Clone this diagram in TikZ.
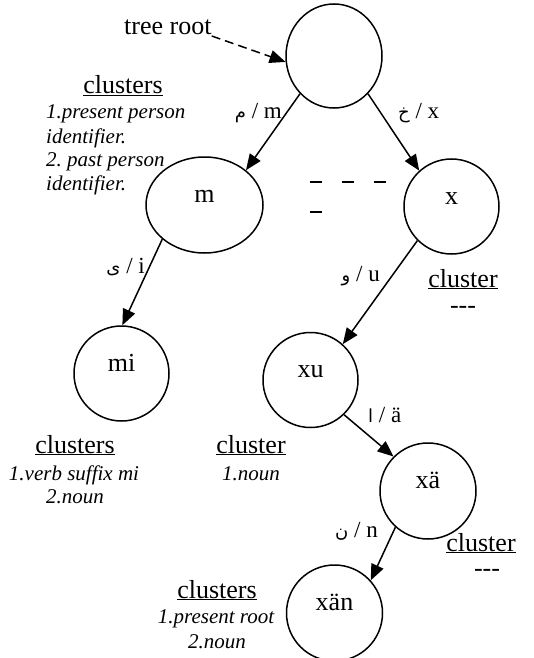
\documentclass[tikz,border=0pt]{standalone}
\usepackage{fontspec}
\setmainfont{Liberation Serif}
\newfontfamily\arabicfont[Script=Arabic]{DejaVu Sans}
\TeXXeTstate=1
\frenchspacing
\usetikzlibrary{arrows.meta,shapes.geometric}
\newcommand\arl[1]{{\fontsize{18}{20}\arabicfont\beginR #1\endR}}
\begin{document}
\begin{tikzpicture}[x=1pt,y=-1pt,
  state/.style={circle,draw,line width=1.5pt,minimum size=95pt,inner sep=0pt,
    text height=0pt,text depth=5pt,font=\fontsize{26}{30}\selectfont},
  edge/.style={line width=1.5pt,-{Triangle[length=16pt,width=13pt]}},
  lbl/.style={font=\fontsize{23}{26}\selectfont,inner sep=0pt},
  head/.style={font=\fontsize{26}{30}\selectfont,inner sep=0pt,anchor=base},
  item/.style={font=\fontsize{21}{24}\selectfont\itshape,inner sep=0pt,anchor=base},
  dashbar/.style={line width=2.5pt}
]
\useasboundingbox (0,0) rectangle (533,658);
% nodes
\node[state,ellipse,minimum width=96pt,minimum height=104pt] (root) at (334,56) {};
\node[state,ellipse,minimum width=117pt,minimum height=96pt] (m) at (204.5,205) {m};
\node[state] (x) at (451.5,206.5) {x};
\node[state] (mi) at (121.5,373.5) {mi};
\node[state] (xu) at (310.5,380) {xu};
\node[state,minimum size=96pt] (xa) at (428,491) {xä};
\node[state,minimum size=96pt] (xan) at (334.5,613) {xän};
% tree root
\node[font=\fontsize{26}{30}\selectfont,inner sep=0pt,anchor=base west] (tr) at (124,35) {tree root};
\draw[line width=1.5pt,dash pattern=on 9pt off 5pt,-{Triangle[length=16pt,width=13pt]}] ([yshift=-1pt]tr.base east) -- (root.187);
% edges
\draw[edge] (root.228) -- (m.40);
\draw[edge] (root.312) -- (x.132);
\draw[edge] (m.219) -- (mi.89);
\draw[edge] (x.225) -- (xu.48);
\draw[edge] (xu.-46) -- (xa.135);
\draw[edge] (xa.228) -- (xan.42);
% edge labels
\node[lbl,anchor=base east] (l1) at (282,118) {\arl{م} / m};
\node[lbl,anchor=base west] (l2) at (398,118) {\arl{خ} / x};
\node[lbl,anchor=base east] (l3) at (145,273) {\arl{ى} / i};
\node[lbl,anchor=base east] (l4) at (380,281) {\arl{و} / u};
\node[lbl,anchor=base west] (l5) at (368,422) {\arl{ا} / ä};
\node[lbl,anchor=base east] (l6) at (378,537) {\arl{ن} / n};
% dashes
\draw[dashbar] (310,182) -- (322,182);
\draw[dashbar] (342,182) -- (354,182);
\draw[dashbar] (374,182) -- (386,182);
\draw[dashbar] (310,212) -- (322,212);
% cluster texts
\node[head] (c1) at (123,94) {\underline{clusters}};
\node[item,anchor=base west] (c1a) at (46,119) {1.present person};
\node[item,anchor=base west] (c1b) at (46,143) {identifier.};
\node[item,anchor=base west] (c1c) at (46,166) {2. past person};
\node[item,anchor=base west] (c1d) at (46,190) {identifier.};
\node[head] (c2) at (463,287) {\underline{cluster}};
\node[head] (c2a) at (463,313) {{-}{-}{-}};
\node[head] (c3) at (75,453) {\underline{clusters}};
\node[item] (c3a) at (74,480) {1.verb suffix mi};
\node[item] (c3b) at (75,503) {2.noun};
\node[head] (c4) at (251,453) {\underline{cluster}};
\node[item] (c4a) at (251,480) {1.noun};
\node[head] (c5) at (481,551) {\underline{cluster}};
\node[head] (c5a) at (487,576) {{-}{-}{-}};
\node[head] (c6) at (217,598) {\underline{clusters}};
\node[item] (c6a) at (216,623) {1.present root};
\node[item] (c6b) at (217,648) {2.noun};
\end{tikzpicture}
\end{document}
